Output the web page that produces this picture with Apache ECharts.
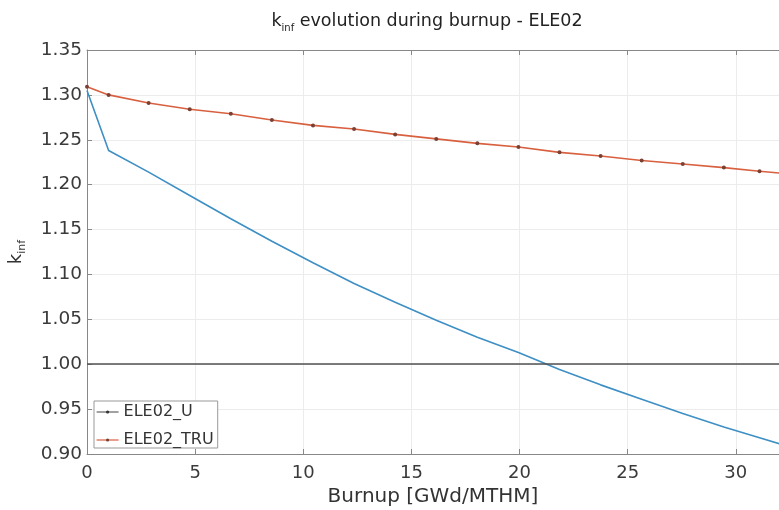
<!DOCTYPE html>
<html>
<head>
<meta charset="utf-8">
<script src="https://cdn.jsdelivr.net/npm/echarts@6/dist/echarts.min.js"></script>
<style>html,body{margin:0;padding:0;background:#fff}#c{width:779px;height:510px}</style>
</head>
<body>
<div id="c"></div>
<script>
const burnup = [0, 1, 2.85, 4.75, 6.65, 8.55, 10.45, 12.35, 14.25, 16.15, 18.05, 19.95, 21.85, 23.75, 25.65, 27.55, 29.45, 31.1, 32.9];
const ele02U = [1.305, 1.238, 1.214, 1.188, 1.162, 1.137, 1.113, 1.090, 1.069, 1.049, 1.030, 1.013, 0.994, 0.977, 0.961, 0.945, 0.930, 0.918, 0.905];
const ele02TRU = [1.309, 1.300, 1.291, 1.284, 1.279, 1.272, 1.266, 1.262, 1.256, 1.251, 1.246, 1.242, 1.236, 1.232, 1.227, 1.223, 1.219, 1.215, 1.211];
const xTicks = [0, 5, 10, 15, 20, 25, 30];
const yTicks = [0.90, 0.95, 1.00, 1.05, 1.10, 1.15, 1.20, 1.25, 1.30, 1.35];
const refLevel = 1.0;

const font = 'DejaVu Sans, Verdana, sans-serif';
const pair = (xs, ys) => xs.map((x, i) => [x, ys[i]]);

const chart = echarts.init(document.getElementById('c'), null, {renderer: 'canvas'});
chart.setOption({
  animation: false,
  backgroundColor: '#fff',
  title: {
    text: '{m|k}{s|inf}{m| evolution during burnup - ELE02}',
    left: 422, top: 4, textAlign: 'center',
    textStyle: {
      fontWeight: 'normal',
      rich: {
        m: {fontFamily: font, fontSize: 17.5, fontWeight: 'normal', color: '#222'},
        s: {fontFamily: font, fontSize: 10, fontWeight: 'normal', color: '#222', verticalAlign: 'bottom', padding: [14, 0, 0, 0]}
      }
    }
  },
  grid: {left: 87, top: 50, right: 0, bottom: 56, containLabel: false, outerBoundsMode: 'none'},
  legend: {
    orient: 'vertical', left: 94, top: 401,
    backgroundColor: '#fff', borderColor: '#999', borderWidth: 1,
    padding: [3, 4, 0, 2], itemGap: 12, itemWidth: 22, itemHeight: 4,
    textStyle: {fontFamily: font, fontSize: 16, lineHeight: 16, color: '#333'},
    data: [
      {name: 'ELE02_U', lineStyle: {color: '#444', width: 1}, itemStyle: {color: '#333'}},
      {name: 'ELE02_TRU', lineStyle: {width: 1.2}}
    ]
  },
  xAxis: [{
    type: 'value', min: 0, max: 32, interval: 5,
    name: 'Burnup [GWd/MTHM]', nameLocation: 'middle', nameGap: 29,
    nameTextStyle: {fontFamily: font, fontSize: 20, color: '#333'},
    axisLine: {show: true, lineStyle: {color: '#888', width: 1}},
    axisTick: {show: true, inside: true, length: 5, lineStyle: {color: '#888'}},
    axisLabel: {fontFamily: font, fontSize: 18, color: '#3a3a3a', margin: 10, showMaxLabel: false,
      formatter: v => xTicks.includes(v) ? String(v) : ''},
    splitLine: {show: true, showMaxLine: false, lineStyle: {color: '#ececec', width: 1}}
  }, {
    type: 'value', min: 0, max: 32, interval: 5, position: 'top',
    axisLine: {show: true, lineStyle: {color: '#888', width: 1}},
    axisTick: {show: true, inside: true, length: 5, lineStyle: {color: '#888'}},
    axisLabel: {show: false}, splitLine: {show: false}
  }],
  yAxis: {
    type: 'value', min: 0.90, max: 1.35, interval: 0.05,
    name: '{m|k}{s|inf}', nameLocation: 'middle', nameGap: 59, nameRotate: 90,
    nameTextStyle: {
      rich: {
        m: {fontFamily: font, fontSize: 18, color: '#333'},
        s: {fontFamily: font, fontSize: 11, color: '#333', verticalAlign: 'bottom', padding: [12, 0, 0, 0]}
      }
    },
    axisLine: {show: true, lineStyle: {color: '#888', width: 1}},
    axisTick: {show: true, inside: true, length: 5, lineStyle: {color: '#888'}},
    axisLabel: {fontFamily: font, fontSize: 18.5, color: '#3a3a3a', margin: 5,
      formatter: v => {
        const t = yTicks.find(y => Math.abs(y - v) < 1e-6);
        return t !== undefined ? t.toFixed(2) : '';
      }},
    splitLine: {show: true, lineStyle: {color: '#ececec', width: 1}}
  },
  series: [{
    name: 'ELE02_U', type: 'line', data: pair(burnup, ele02U), clip: true,
    showSymbol: false, symbol: 'circle', symbolSize: 3,
    lineStyle: {color: '#3d8fc4', width: 1.6},
    itemStyle: {color: '#33414d'},
    markLine: {
      silent: true, symbol: 'none', label: {show: false},
      lineStyle: {color: '#505050', width: 1.6, type: 'solid'},
      data: [{yAxis: refLevel}]
    },
    z: 3
  }, {
    name: 'ELE02_TRU', type: 'line', data: pair(burnup, ele02TRU), clip: true,
    symbol: 'circle', symbolSize: 4,
    lineStyle: {color: '#d8603f', width: 1.6},
    itemStyle: {color: '#7a4034'},
    z: 4
  }]
});
</script>
</body>
</html>
